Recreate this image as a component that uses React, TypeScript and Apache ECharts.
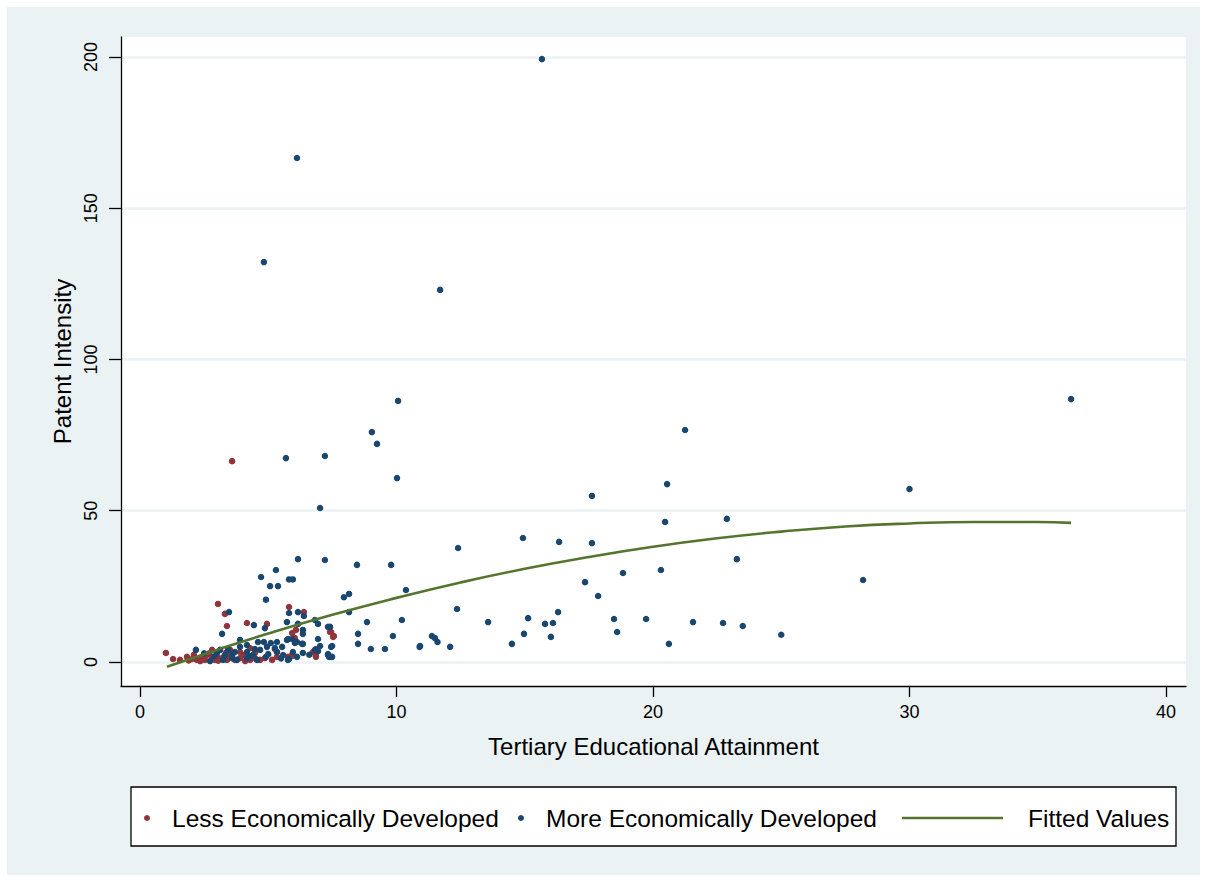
import React, { useEffect, useRef } from "react";
import * as echarts from "echarts";

// Less Economically Developed (x: tertiary attainment, y: patent intensity)
const lessDev: [number, number][] = [
  [3.59, 66.4], [3.04, 19.2], [3.31, 15.9], [3.39, 11.9], [4.17, 12.9], [4.95, 12.6],
  [5.81, 18.2], [6.39, 16.5], [6.08, 10.6], [7.45, 9.9], [7.56, 8.6], [6.86, 4.0],
  [6.86, 2.0], [5.93, 2.3], [5.34, 3.3], [4.48, 3.0], [1.01, 3.0], [1.29, 1.0], [1.56, 0.7],
  [1.83, 1.7], [2.03, 1.0], [2.22, 0.7], [2.42, 1.7], [2.53, 0.7], [2.61, 2.3], [2.81, 1.3],
  [2.92, 0.7], [3.0, 1.7], [3.2, 1.3], [3.39, 0.7], [3.51, 1.7], [3.35, 3.0], [3.7, 0.7],
  [3.9, 1.3], [4.02, 2.3], [4.29, 0.7], [4.48, 1.3], [4.68, 0.7], [4.87, 1.3], [5.15, 0.7],
  [5.34, 1.7], [5.77, 1.7], [6.74, 3.3], [5.93, 9.6], [5.26, 4.3], [6.04, 7.9], [4.29, 4.6],
  [3.9, 3.3], [3.51, 4.0], [2.81, 4.0], [7.41, 9.9], [7.53, 8.3], [6.86, 4.3], [6.86, 1.7],
  [5.93, 2.0], [2.1, 2.4], [2.7, 2.9], [1.9, 0.5], [2.35, 0.3], [3.05, 0.4], [4.1, 0.3],
];

// More Economically Developed
const moreDev: [number, number][] = [
  [15.67, 199.3], [6.12, 166.6], [4.83, 132.2], [11.7, 123.0], [36.3, 86.9], [10.06, 86.3],
  [21.25, 76.7], [9.04, 76.0], [9.24, 72.1], [5.69, 67.4], [7.21, 68.1], [10.02, 60.8],
  [30.0, 57.2], [20.55, 58.8], [7.02, 50.9], [17.62, 54.9], [22.88, 47.3], [20.47, 46.3],
  [14.93, 41.0], [16.34, 39.7], [17.62, 39.3], [12.4, 37.7], [23.27, 34.0], [6.16, 34.0],
  [7.21, 33.7], [8.46, 32.1], [9.79, 32.1], [5.3, 30.4], [20.31, 30.4], [18.83, 29.4],
  [4.72, 28.1], [5.81, 27.3], [5.96, 27.3], [28.19, 27.1], [17.35, 26.4], [5.07, 25.1],
  [5.38, 25.1], [10.37, 23.8], [8.15, 22.5], [17.86, 21.8], [7.95, 21.4], [4.91, 20.6],
  [12.36, 17.5], [13.57, 13.2], [15.13, 14.5], [14.97, 9.3], [14.5, 6.0], [15.79, 12.6],
  [16.1, 12.9], [16.3, 16.5], [16.02, 8.3], [18.48, 14.2], [18.6, 9.9], [19.73, 14.2],
  [20.62, 6.0], [21.56, 13.2], [22.73, 12.9], [23.5, 11.9], [25.0, 9.0], [11.38, 8.6],
  [11.5, 7.9], [11.6, 6.6], [12.09, 5.0], [10.9, 5.0], [10.92, 5.3], [8.15, 16.5],
  [8.85, 13.2], [10.21, 13.9], [8.5, 9.3], [8.5, 6.0], [9.0, 4.3], [9.55, 4.3], [9.86, 8.6],
  [7.49, 5.3], [7.49, 1.7], [7.41, 11.6], [7.33, 2.6],
  [3.47, 16.5], [3.2, 9.3], [2.18, 4.0], [2.73, 0.3], [6.16, 16.5], [5.81, 16.2], [6.39, 15.2],
  [5.73, 13.2], [6.16, 12.6], [6.82, 13.9], [6.94, 12.6], [7.33, 11.6], [6.35, 10.6],
  [4.87, 11.2], [4.44, 12.2], [5.73, 7.3], [5.34, 6.6], [5.1, 6.3], [5.78, 7.6], [5.93, 7.6],
  [6.04, 6.3], [6.35, 6.0], [6.35, 9.3], [6.94, 7.6], [7.02, 5.3], [6.82, 4.0], [7.45, 5.0],
  [7.33, 2.3], [6.35, 3.0], [5.77, 0.7], [5.34, 3.3], [4.95, 5.0], [4.68, 4.0], [4.4, 2.3],
  [4.17, 3.3], [3.9, 5.0], [3.7, 3.3], [3.59, 1.3], [3.31, 2.3], [3.12, 4.0], [3.0, 3.0],
  [3.78, 0.7], [4.17, 1.3], [4.48, 4.3], [4.6, 6.6], [4.17, 5.6], [3.9, 7.3], [5.26, 4.6],
  [5.54, 5.0], [5.96, 3.3], [4.91, 1.7], [5.58, 2.3], [6.12, 1.7], [4.56, 0.7], [3.43, 4.0],
  [3.24, 0.7], [4.83, 6.6], [6.32, 6.0], [6.12, 6.6], [5.81, 1.0], [6.94, 3.6], [7.37, 1.7],
  [5.0, 2.6], [5.5, 1.2], [6.6, 2.4], [4.3, 1.9], [3.6, 2.6], [2.9, 1.9], [2.5, 2.9],
];

// Fitted values (quadratic fit)
const fitX = [1.05, 3, 5, 7.5, 10, 12.5, 15, 17.5, 20, 22.5, 25, 27.5, 30, 32.5, 35, 36.3];
const fitY = [-1.6, 4.0, 9.4, 15.6, 21.2, 26.3, 30.8, 34.7, 38.1, 40.9, 43.1, 44.8, 45.8, 46.3, 46.3, 46.0];

const xTicks = [0, 10, 20, 30, 40];
const yTicks = [0, 50, 100, 150, 200];

const FONT = "'Liberation Sans', Arial, Helvetica, sans-serif";
const NAVY = "#1A476F";
const MAROON = "#90353B";
const GREEN = "#55752F";
const BG = "#EAF2F3";

export default function App() {
  const ref = useRef<HTMLDivElement>(null);
  useEffect(() => {
    if (!ref.current) return;
    const chart = echarts.init(ref.current, null, { renderer: "svg" });
    const fitData = fitX.map((x, i) => [x, fitY[i]]);
    const legendText = { fontSize: 24.5, color: "#000", fontFamily: FONT, lineHeight: 28 };
    chart.setOption({
      animation: false,
      backgroundColor: BG,
      textStyle: { fontFamily: FONT },
      grid: {
        left: 114,
        top: 30,
        width: 1065,
        height: 649,
        show: true,
        backgroundColor: "#ffffff",
        borderWidth: 0,
      },
      xAxis: {
        type: "value",
        min: -0.7407,
        max: 40.78,
        name: "Tertiary Educational Attainment",
        nameLocation: "middle",
        nameGap: 48,
        nameTextStyle: { fontSize: 24, color: "#000", fontFamily: FONT },
        axisLine: { show: true, onZero: false, lineStyle: { color: "#000", width: 1.3 } },
        axisTick: { show: true, length: 11, customValues: xTicks, lineStyle: { color: "#000", width: 1.3 } },
        axisLabel: { customValues: xTicks, fontSize: 18, color: "#000", margin: 17, fontFamily: FONT },
        splitLine: { show: false },
      },
      yAxis: {
        type: "value",
        min: -7.934,
        max: 206.6,
        name: "Patent Intensity",
        nameLocation: "middle",
        nameRotate: 90,
        nameGap: 41,
        nameTextStyle: { fontSize: 24, color: "#000", fontFamily: FONT },
        axisLine: { show: true, onZero: false, lineStyle: { color: "#000", width: 1.3 } },
        axisTick: { show: true, length: 12, customValues: yTicks, lineStyle: { color: "#000", width: 1.3 } },
        axisLabel: { customValues: yTicks, rotate: 90, fontSize: 18, color: "#000", margin: 21, fontFamily: FONT },
        splitLine: { show: true, lineStyle: { color: BG, width: 2.5 } },
      },
      legend: [
        {
          data: ["Less Economically Developed"],
          left: 137,
          top: 797,
          padding: 0,
          itemWidth: 40,
          itemHeight: 6,
          textStyle: legendText,
          selectedMode: false,
        },
        {
          data: ["More Economically Developed"],
          left: 511,
          top: 797,
          padding: 0,
          itemWidth: 40,
          itemHeight: 6,
          textStyle: legendText,
          selectedMode: false,
        },
        {
          data: [{ name: "Fitted Values", icon: "rect" }],
          left: 895,
          top: 797,
          padding: 0,
          itemWidth: 101,
          itemHeight: 2.6,
          itemStyle: { color: GREEN },
          textStyle: { ...legendText, padding: [0, 0, 0, 20] },
          selectedMode: false,
        },
      ],
      graphic: [
        {
          type: "rect",
          z: 1,
          shape: { x: 124, y: 780, width: 1045, height: 59 },
          style: { fill: "#ffffff", stroke: "#000", lineWidth: 1.3 },
        },
      ],
      series: [
        {
          name: "Less Economically Developed",
          type: "scatter",
          data: lessDev,
          symbol: "circle",
          symbolSize: 6.5,
          itemStyle: { color: MAROON, opacity: 1 },
          z: 2,
        },
        {
          name: "More Economically Developed",
          type: "scatter",
          data: moreDev,
          symbol: "circle",
          symbolSize: 6.5,
          itemStyle: { color: NAVY, opacity: 1 },
          z: 3,
        },
        {
          name: "Fitted Values",
          type: "line",
          data: fitData,
          smooth: true,
          showSymbol: false,
          symbol: "none",
          lineStyle: { color: GREEN, width: 2.6 },
          itemStyle: { color: GREEN },
          z: 4,
        },
      ],
    });
    return () => chart.dispose();
  }, []);
  return (
    <div
      ref={ref}
      style={{ position: "absolute", left: 7, top: 7, width: 1193, height: 868 }}
    />
  );
}
